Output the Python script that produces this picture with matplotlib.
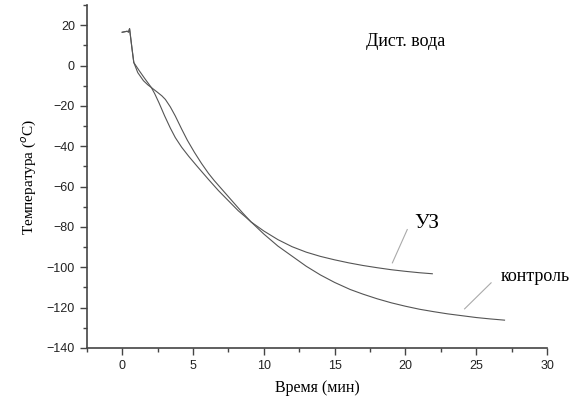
import matplotlib
matplotlib.use("Agg")
import matplotlib.pyplot as plt
from matplotlib.ticker import MultipleLocator

# контроль
control_t = [0.0, 0.2, 0.35, 0.45, 0.52, 0.7, 0.82, 1.1, 1.5, 1.8, 2.06, 2.5, 2.8, 3.05,
             3.4, 3.75, 4.2, 4.6, 5.1, 5.6, 6.1, 6.5, 7.0, 7.5, 8.0, 8.5, 9.1, 10.0, 11.0,
             12.1, 13.0, 14.0, 15.0, 16.1, 17.0, 18.0, 19.0, 20.0, 21.0, 22.0, 23.0, 24.0,
             25.0, 26.0, 27.0]
control_T = [16.5, 16.8, 17.0, 16.6, 18.3, 8.0, 1.5, -3.5, -7.5, -9.5, -10.9, -13.3, -15.0,
             -16.8, -20.5, -25.0, -31.5, -37.0, -43.0, -48.5, -53.5, -57.0, -61.0, -65.0,
             -69.0, -73.0, -77.5, -83.5, -89.5, -95.0, -99.5, -103.8, -107.5, -111.0,
             -113.3, -115.6, -117.6, -119.3, -120.8, -122.0, -123.1, -124.0, -124.9,
             -125.6, -126.2]

# УЗ
uz_t = [0.0, 0.2, 0.35, 0.45, 0.52, 0.7, 0.82, 1.2, 1.6, 2.06, 2.3, 2.6, 3.0, 3.4, 3.75,
        4.2, 4.7, 5.3, 6.1, 6.8, 7.5, 8.2, 8.7, 9.1, 10.0, 11.0, 12.0, 13.0, 14.0, 15.0,
        16.0, 17.0, 18.0, 19.0, 20.0, 21.0, 21.9]
uz_T = [16.5, 16.8, 17.0, 16.6, 18.3, 8.0, 1.5, -2.5, -6.5, -10.9, -14.0, -18.5, -25.0,
        -31.0, -35.7, -40.5, -45.0, -50.0, -56.5, -62.0, -67.0, -72.0, -75.0, -77.5,
        -82.0, -86.3, -89.8, -92.5, -94.6, -96.3, -97.8, -99.1, -100.2, -101.2, -102.0,
        -102.7, -103.2]

serif = ["Liberation Serif", "DejaVu Serif"]
plt.rcParams["font.family"] = ["Liberation Sans", "DejaVu Sans"]

fig = plt.figure(figsize=(5.71, 4.03), dpi=100)
ax = fig.add_axes([0.152, 0.1365, 0.806, 0.851])

ax.plot(control_t, control_T, color="#555555", lw=0.8)
ax.plot(uz_t, uz_T, color="#555555", lw=0.8)

# leader lines and labels
ax.plot([20.13, 19.08], [-81.3, -97.8], color="#aaaaaa", lw=0.8)
ax.plot([26.05, 24.18], [-107.7, -120.6], color="#aaaaaa", lw=0.8)
ax.text(20.65, -78.5, "УЗ", family=serif, fontsize=15, va="center", ha="left")
ax.text(26.76, -104.4, "контроль", family=serif, fontsize=13, va="center", ha="left",
        clip_on=False)
ax.text(17.2, 11.8, "Дист. вода", family=serif, fontsize=13, va="center", ha="left")

ax.set_xlim(-2.5, 30)
ax.set_ylim(-140, 30)
ax.xaxis.set_major_locator(MultipleLocator(5))
ax.xaxis.set_minor_locator(MultipleLocator(2.5))
ax.yaxis.set_major_locator(MultipleLocator(20))
ax.yaxis.set_minor_locator(MultipleLocator(10))

for s in ["top", "right"]:
    ax.spines[s].set_visible(False)
for s in ["left", "bottom"]:
    ax.spines[s].set_color("#444444")
    ax.spines[s].set_linewidth(1.2)

ax.tick_params(which="major", direction="out", length=5, width=1, color="#444444",
               labelsize=9, labelcolor="#222222")
ax.tick_params(which="minor", direction="out", length=3, width=1, color="#444444")

ax.set_xlabel("Время (мин)", family=serif, fontsize=11.5, labelpad=6)
ax.set_ylabel("Температура ($^{o}$C)", family=serif, fontsize=11, labelpad=6)

fig.savefig("out.png", dpi=100)
